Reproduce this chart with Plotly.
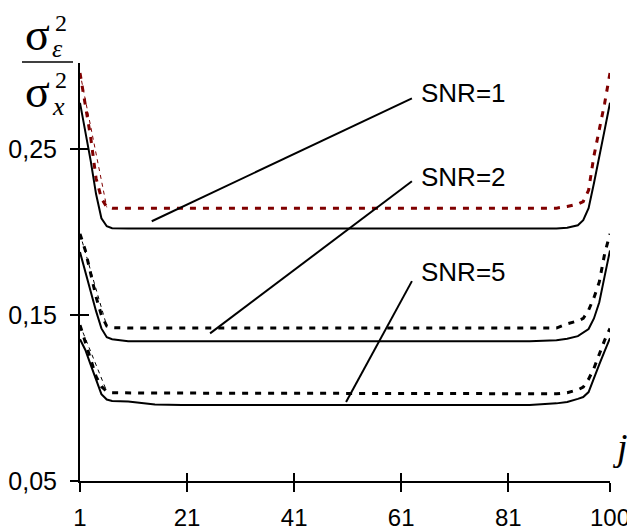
import plotly.graph_objects as go

# ---------------- data ----------------
j = [1, 2, 3, 4, 5, 6, 7, 10, 15, 20, 50, 85, 90, 92, 94, 95, 96, 97, 98, 99, 100]

snr1_solid = [0.278, 0.261, 0.243, 0.223, 0.2084, 0.2036, 0.2024, 0.2022, 0.2022, 0.2022, 0.2022,
              0.2022, 0.2022, 0.2027, 0.2042, 0.2072, 0.2145, 0.2295, 0.2448, 0.2617, 0.278]
snr1_dash = [0.296, 0.2765, 0.257, 0.2325, 0.2205, 0.215, 0.2145, 0.2145, 0.2145, 0.2145, 0.2145,
             0.2145, 0.2145, 0.2155, 0.217, 0.2185, 0.2253, 0.246, 0.2614, 0.2777, 0.296]
snr2_solid = [0.188, 0.176, 0.165, 0.1524, 0.142, 0.1367, 0.1355, 0.1343, 0.1343, 0.1343, 0.1343,
              0.1343, 0.1349, 0.1358, 0.1373, 0.1392, 0.1416, 0.148, 0.1578, 0.1735, 0.189]
snr2_dash = [0.199, 0.189, 0.175, 0.161, 0.15, 0.1434, 0.1425, 0.1422, 0.1422, 0.1422, 0.1422,
             0.1422, 0.1422, 0.1448, 0.1465, 0.148, 0.153, 0.1605, 0.170, 0.187, 0.199]
snr5_solid = [0.1355, 0.129, 0.120, 0.1108, 0.1024, 0.0991, 0.0982, 0.0979, 0.0961, 0.0958, 0.0958,
              0.0958, 0.0968, 0.0976, 0.0995, 0.1006, 0.1036, 0.1125, 0.1203, 0.1283, 0.1361]
snr5_dash = [0.144, 0.134, 0.124, 0.113, 0.107, 0.104, 0.1032, 0.103, 0.103, 0.103, 0.103,
             0.103, 0.1026, 0.1032, 0.105, 0.1066, 0.1114, 0.118, 0.127, 0.1349, 0.142]

labels = ["SNR=1", "SNR=2", "SNR=5"]
label_x = [64.3, 64.3, 64.3]
label_y = [0.2837, 0.2331, 0.1759]
leader_x0 = [14.4, 25.3, 50.7]
leader_y0 = [0.2066, 0.139, 0.0976]
leader_x1 = [63.0, 63.0, 63.0]
leader_y1 = [0.2807, 0.2307, 0.1705]

x_ticks = [1, 21, 41, 61, 81, 100]
y_ticks = [0.05, 0.15, 0.25]
y_ticktext = ["0,05", "0,15", "0,25"]

# ---------------- figure ----------------
RED = "#800000"
BLK = "#000000"
fig = go.Figure()

dash_series = [(snr1_dash, RED), (snr2_dash, BLK), (snr5_dash, BLK)]
solid_series = [snr1_solid, snr2_solid, snr5_solid]

for ys, col in dash_series:
    # thin dashed connector of the initial drop
    fig.add_trace(go.Scatter(x=[j[0], j[5]], y=[ys[0], ys[5]], mode="lines",
                             line=dict(color=col, width=1, dash="4px,4px"),
                             hoverinfo="skip", showlegend=False))
    fig.add_trace(go.Scatter(x=j, y=ys, mode="lines",
                             line=dict(color=col, width=3, dash="6px,7px"),
                             showlegend=False))
for ys in solid_series:
    fig.add_trace(go.Scatter(x=j, y=ys, mode="lines",
                             line=dict(color=BLK, width=2), showlegend=False))

for i in range(3):
    fig.add_trace(go.Scatter(x=[leader_x0[i], leader_x1[i]], y=[leader_y0[i], leader_y1[i]],
                             mode="lines", line=dict(color=BLK, width=2),
                             hoverinfo="skip", showlegend=False))
    fig.add_annotation(x=label_x[i], y=label_y[i], xref="x", yref="y", text=labels[i],
                       showarrow=False, xanchor="left", yanchor="middle",
                       font=dict(family="Liberation Sans, Arial", size=26, color=BLK))

# invisible trace for overlay axes (inside ticks)
fig.add_trace(go.Scatter(x=[1], y=[0.05], xaxis="x2", yaxis="y2", mode="markers",
                         marker=dict(opacity=0), hoverinfo="skip", showlegend=False))

# the page body adds an 8px offset; compensate so the plot lands where the reference has it
OFF = 8
L, R, T, B = 80 - OFF, 25, 63 - OFF, 49
pw, ph = 530, 418
W, H = L + pw + R, T + ph + B

fig.update_layout(
    width=W, height=H, margin=dict(l=L, r=R, t=T, b=B, autoexpand=False),
    paper_bgcolor="white", plot_bgcolor="white",
    xaxis=dict(range=[1, 100], tickvals=x_ticks, ticktext=[str(v) for v in x_ticks],
               ticks="outside", ticklen=9, tickwidth=2, tickcolor=BLK, automargin=False,
               showline=True, linecolor=BLK, linewidth=2, showgrid=False, zeroline=False,
               tickfont=dict(family="Liberation Sans, Arial", size=24, color=BLK),
               ticklabelstandoff=5),
    yaxis=dict(range=[0.05, 0.302], tickvals=y_ticks, ticktext=y_ticktext,
               ticks="outside", ticklen=8, tickwidth=2, tickcolor=BLK, automargin=False,
               showline=True, linecolor=BLK, linewidth=2, showgrid=False, zeroline=False,
               tickfont=dict(family="Liberation Sans, Arial", size=25, color=BLK),
               ticklabelstandoff=8),
    xaxis2=dict(range=[1, 100], overlaying="x", anchor="y2", side="bottom",
                tickvals=x_ticks, ticks="inside", ticklen=8, tickwidth=2, tickcolor=BLK,
                showticklabels=False, showline=False, showgrid=False, zeroline=False,
                automargin=False),
    yaxis2=dict(range=[0.05, 0.302], overlaying="y", anchor="x2", side="left",
                tickvals=y_ticks, ticks="inside", ticklen=9, tickwidth=2, tickcolor=BLK,
                showticklabels=False, showline=False, showgrid=False, zeroline=False,
                automargin=False),
)

def px(xp):
    return (xp - OFF - L) / pw

def py(yp):
    return (OFF + T + ph - yp) / ph

serif = "Liberation Serif, Times New Roman, serif"
parts = [
    ("σ", 37, 34, 46, False),
    ("2", 61, 23, 24, False),
    ("ε", 57, 48, 26, True),
    ("σ", 37, 92, 46, False),
    ("2", 61, 80, 24, False),
    ("x", 58, 106, 26, True),
    ("j", 620, 447, 38, True),
]
for txt, xp, yp, sz, ital in parts:
    t = f"<i>{txt}</i>" if ital else txt
    fig.add_annotation(x=px(xp), y=py(yp), xref="paper", yref="paper", text=t,
                       showarrow=False, xanchor="center", yanchor="middle",
                       font=dict(family=serif, size=sz, color=BLK))

fig.add_shape(type="line", xref="paper", yref="paper",
              x0=px(22), x1=px(73), y0=py(62), y1=py(62),
              line=dict(color=BLK, width=1.5))

fig.write_html("out.html")
